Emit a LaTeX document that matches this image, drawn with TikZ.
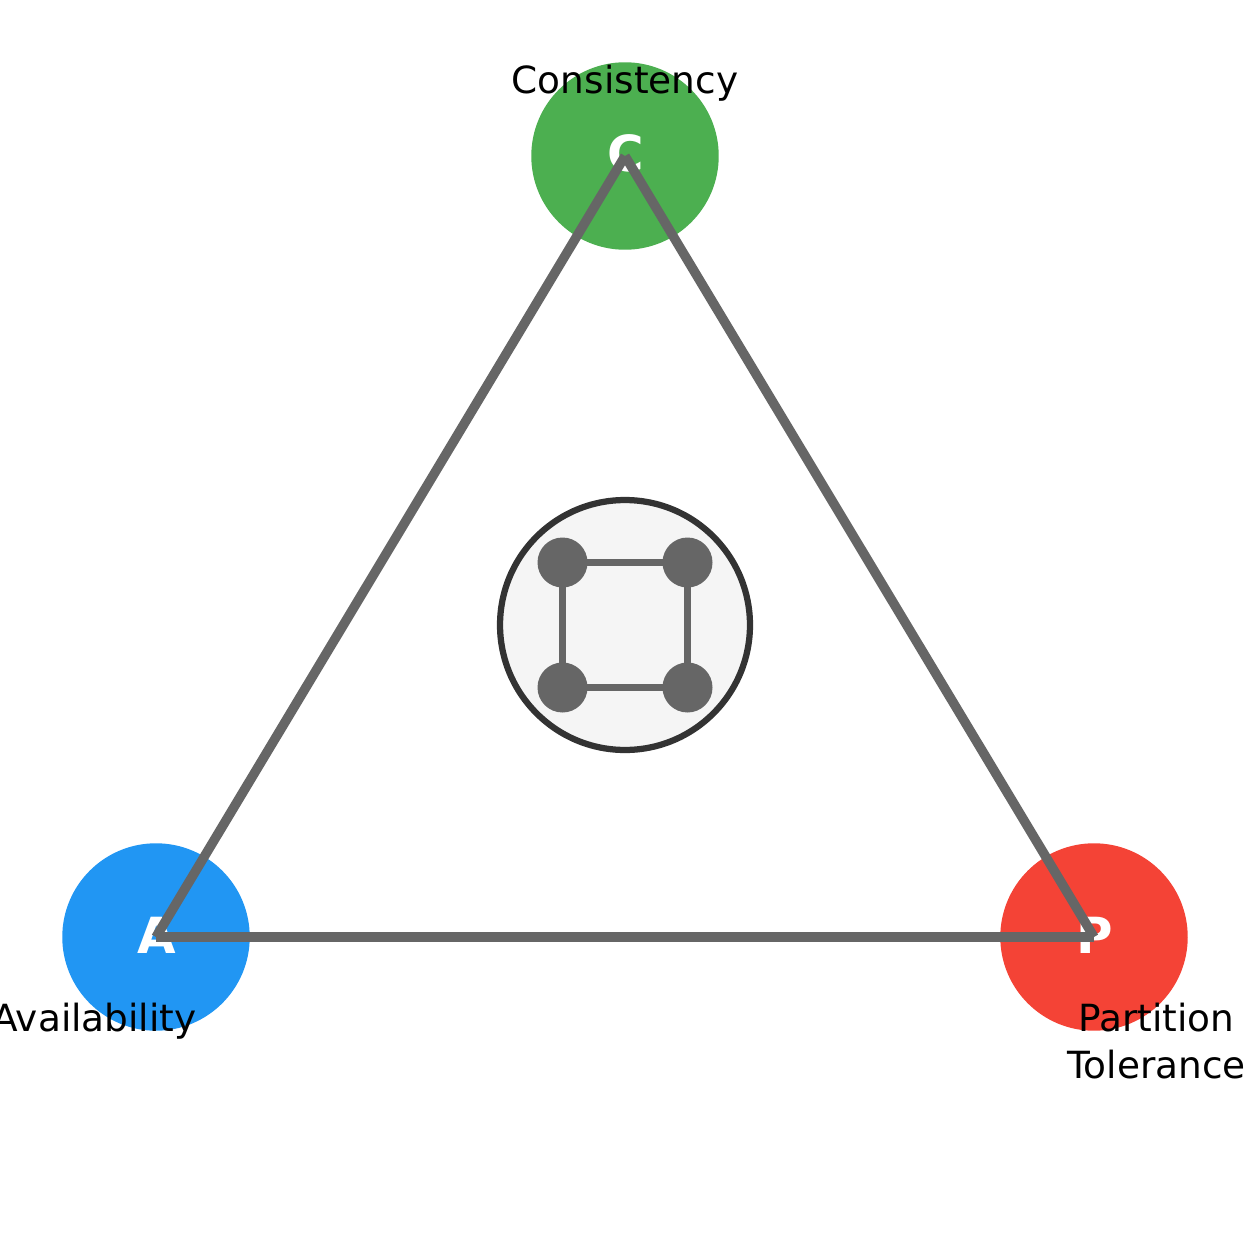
\documentclass[tikz,border=0pt]{standalone}
\usepackage{fontspec}
\setmainfont{DejaVu Sans}
\usetikzlibrary{positioning}
\definecolor{ConsistencyColor}{HTML}{4CAF50}
\definecolor{AvailabilityColor}{HTML}{2196F3}
\definecolor{PartitionColor}{HTML}{F44336}
\definecolor{EdgeColor}{HTML}{666666}
\definecolor{RingColor}{HTML}{333333}
\definecolor{RingFill}{HTML}{F5F5F5}
\tikzset{
  corner/.style={circle, minimum size=3.75cm, inner sep=0pt},
  letter/.style={inner sep=0pt, anchor=base, text=white, font=\fontsize{28.35}{34}\selectfont\bfseries},
  caption/.style={inner sep=0pt, anchor=base, font=\fontsize{21.3}{26.6}\selectfont},
  edge/.style={EdgeColor, line width=0.19cm},
  link/.style={EdgeColor, line width=0.125cm},
  server/.style={circle, fill=EdgeColor, minimum size=1cm, inner sep=0pt}
}
\begin{document}
\begin{tikzpicture}[x=0.02cm, y=-0.02cm]
  \useasboundingbox (0,0) rectangle (1250,1250);
  \node[corner, fill=ConsistencyColor] (c) at (625,156) {};
  \node[corner, fill=AvailabilityColor] (a) at (156,937) {};
  \node[corner, fill=PartitionColor] (p) at (1094,937) {};
  \node[letter] (cletter) at (625.5,172) {C};
  \node[letter] (aletter) at (156.5,953) {A};
  \node[letter] (pletter) at (1094.5,953) {P};
  \draw[edge] (c.center) -- (p.center);
  \draw[edge] (p.center) -- (a.center);
  \draw[edge] (a.center) -- (c.center);

  \node[circle, draw=RingColor, fill=RingFill, line width=0.125cm, minimum size=5cm, inner sep=0pt] (ring) at (625,625) {};
  \coordinate (tl) at (562.5,562.5);
  \coordinate (tr) at (687.5,562.5);
  \coordinate (bl) at (562.5,687.5);
  \coordinate (br) at (687.5,687.5);
  \draw[link] (tl) -- (tr) -- (br) -- (bl) -- cycle;
  \node[server] (n1) at (tl) {};
  \node[server] (n2) at (tr) {};
  \node[server] (n3) at (bl) {};
  \node[server] (n4) at (br) {};

  \node[caption] (ctext) at (625,94) {Consistency};
  \node[caption] (atext) at (94.5,1031) {Availability};
  \node[caption] (ptext) at (1156.5,1031) {Partition};
  \node[caption] (ttext) at (1156.5,1078) {Tolerance};
\end{tikzpicture}
\end{document}
